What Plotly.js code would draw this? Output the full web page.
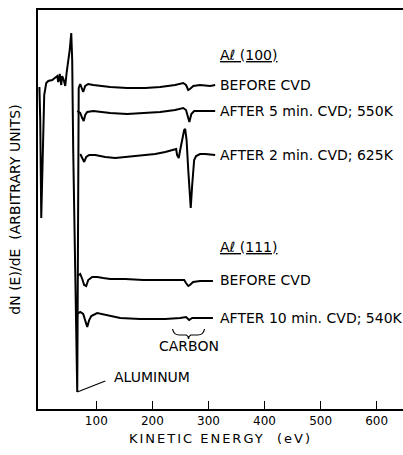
<!DOCTYPE html>
<html>
<head>
<meta charset="utf-8">
<script src="https://cdn.plot.ly/plotly-3.0.1.min.js"></script>
<style>
html,body{margin:0;padding:0;background:#fff;}
#chart{width:403px;height:455px;}
.g-xtitle text{letter-spacing:2px;}
</style>
</head>
<body>
<div id="chart"></div>
<script>
// Kinetic energy (eV) and dN(E)/dE (arbitrary units, offset per spectrum)
const al100BeforeE = [-1.5,0,1.8,4.5,7.1,10.7,14.3,21.4,26.7,30.3,32.1,34.8,37.4,39.2,41.9,44.6,47.2,49.9,52.6,55.3,57,58.8,61.5,64.2,66,66.8,67.7,68.6,71.3,74.9,76.6,80.2,85.6,94.5,107,124.8,155,187,214,240.6,255,260,264,267,273,285,303,312];
const al100BeforeY = [322,289,191,249,314,326,328,329,331,333,327,335,324,333,329,323,337,347,359,376,349,259,149,49,17,109,259,321,325,319,317,323,325,324,323,322,321,321,322,324,326,324,319,320,323,324,323,324];

const al100After5E = [66,71.3,74.9,77.5,80.2,83.8,94.5,107,124.8,155,187,214,240.6,255,260,264,266,269.5,274.5,285,303,312];
const al100After5Y = [298,296,291,288,294,297,298,297,296,295,296,297,299,301,299,289,287,295,298,298,298,298];

const al100After2E = [71.3,74.9,78.4,82,87.3,98,116,133.7,151.5,178,205,223,237,242.4,244,247,249.6,253,256.7,258.5,261,264,266.5,268.4,271,274.5,278,285,294,312];
const al100After2Y = [255,251,247,252,254,254,252,251,252,253,255,257,259,260,254,251,259,269,279,280,269,239,209,201,224,249,253,255,255,254];

const al111BeforeE = [66,71.3,74.9,78.4,82,85.6,92.7,101.6,112.3,124.8,151.5,183.6,214,244,256.7,260,264,267,272.7,285,308];
const al111BeforeY = [133,135,130,124,123,129,132,132,131,130,130,129,129,129,129,126,123,124,127,128,128];

const al111After10E = [66,71.3,76.6,80.2,83.8,87.3,91,101.6,119.4,142.6,178,223,249.6,260,265.6,271,285,308];
const al111After10Y = [95,97,95,87,82,89,93,96,94,91,90,90,91,92,89,91,91,91];

const xTicks = [100,200,300,400,500,600];
const carbonRange = [236,293];      // eV span marked by the brace
const aluminumPoint = [66,17];      // bottom of Al LVV excursion

const labels = [
  {text:'<u>A\u2113 (100)</u>', x:317, y:354},
  {text:'BEFORE CVD', x:317, y:324},
  {text:'AFTER 5 min. CVD; 550K', x:317, y:298},
  {text:'AFTER 2 min. CVD; 625K', x:317, y:254},
  {text:'<u>A\u2113 (111)</u>', x:317, y:162},
  {text:'BEFORE CVD', x:317, y:129},
  {text:'AFTER 10 min. CVD; 540K', x:317, y:91}
];

const FONT = 'DejaVu Sans, Arial, sans-serif';
const lineStyle = {color:'#000', width:2};
function tr(x,y){return {x:x,y:y,mode:'lines',line:lineStyle,hoverinfo:'skip',showlegend:false};}

const traces = [
  tr(al100BeforeE, al100BeforeY),
  tr(al100After5E, al100After5Y),
  tr(al100After2E, al100After2Y),
  tr(al111BeforeE, al111BeforeY),
  tr(al111After10E, al111After10Y)
];

const annotations = labels.map(l => ({
  text:l.text, x:l.x, y:l.y, xref:'x', yref:'y', xanchor:'left', yanchor:'middle',
  showarrow:false, font:{family:FONT,size:14,color:'#000'}
}));
const cMid = (carbonRange[0]+carbonRange[1])/2;
annotations.push({text:'CARBON', x:cMid, y:63, xref:'x', yref:'y', xanchor:'center', yanchor:'middle', showarrow:false, font:{family:FONT,size:14,color:'#000'}});
annotations.push({text:'ALUMINUM', x:128, y:32, xref:'x', yref:'y', xanchor:'left', yanchor:'middle', showarrow:false, font:{family:FONT,size:14,color:'#000'}});

const c0 = carbonRange[0], c1 = carbonRange[1];
const braceTop = 80, braceBot = 72;
const shapes = [
  {type:'path', xref:'x', yref:'y',
   path:`M ${c0} ${braceTop} Q ${c0+2} ${braceBot+2} ${c0+12} ${braceBot+2} L ${cMid-4} ${braceBot+2} Q ${cMid} ${braceBot+1} ${cMid} ${braceBot-2} Q ${cMid} ${braceBot+1} ${cMid+4} ${braceBot+2} L ${c1-12} ${braceBot+2} Q ${c1-2} ${braceBot+2} ${c1} ${braceTop}`,
   line:{color:'#000',width:1.2}},
  {type:'line', xref:'x', yref:'y', x0:aluminumPoint[0], y0:aluminumPoint[1], x1:116, y1:28, line:{color:'#000',width:1.2}}
];

const layout = {
  width:403, height:455,
  margin:{l:38,r:0,t:10,b:46},
  paper_bgcolor:'#fff', plot_bgcolor:'#fff',
  font:{family:FONT,color:'#000'},
  showlegend:false,
  xaxis:{
    range:[-4,647], tickvals:xTicks, ticktext:xTicks.map(String),
    ticks:'inside', ticklen:8, tickwidth:1.5, tickcolor:'#000',
    showline:true, linewidth:2, linecolor:'#000', mirror:true,
    showgrid:false, zeroline:false,
    tickfont:{family:FONT,size:12,color:'#000'},
    title:{text:'KINETIC ENERGY  (eV)', font:{family:FONT,size:13,color:'#000'}, standoff:6}
  },
  yaxis:{
    range:[0,399], showticklabels:false, ticks:'',
    showline:true, linewidth:2, linecolor:'#000',
    showgrid:false, zeroline:false,
    title:{text:'dN (E)/dE  (ARBITRARY UNITS)', font:{family:FONT,size:14,color:'#000'}, standoff:12}
  },
  annotations:annotations,
  shapes:shapes
};

Plotly.newPlot('chart', traces, layout, {staticPlot:true, displayModeBar:false});
</script>
</body>
</html>
